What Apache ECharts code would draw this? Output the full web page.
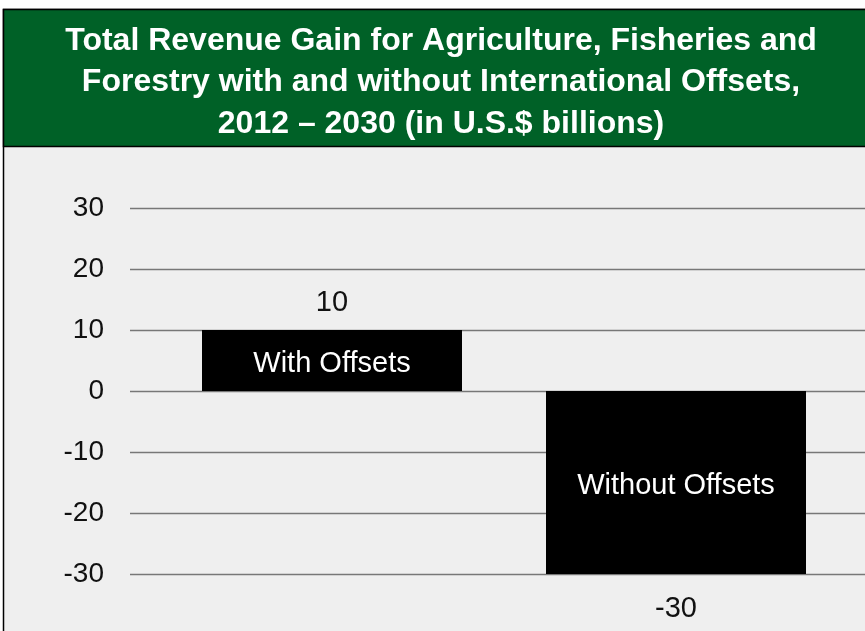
<!DOCTYPE html>
<html><head><meta charset="utf-8">
<style>html,body{margin:0;padding:0;background:#fff}#c{width:865px;height:631px}</style>
<script src="https://cdn.jsdelivr.net/npm/echarts@6/dist/echarts.min.js"></script>
</head><body><div id="c"></div>
<script>
const titleText = 'Total Revenue Gain for Agriculture, Fisheries and\nForestry with and without International Offsets,\n2012 \u2013 2030 (in U.S.$ billions)';
const categories = ['With Offsets', 'Without Offsets'];
const values = [10, -30];
const yMin = -30, yMax = 30, yStep = 10;

const chart = echarts.init(document.getElementById('c'));
const font = '"Liberation Sans", Arial, sans-serif';
chart.setOption({
  backgroundColor: '#ffffff',
  animation: false,
  graphic: [
    { type: 'rect', z: -10, shape: { x: 3.5, y: 9.5, width: 900, height: 700 }, style: { fill: '#efefef', stroke: '#000', lineWidth: 1.5 } },
    { type: 'rect', z: -9, shape: { x: 3.5, y: 9.5, width: 900, height: 137 }, style: { fill: '#006127', stroke: '#000', lineWidth: 1.5 } }
  ],
  title: {
    text: titleText,
    left: 441,
    textAlign: 'center',
    top: 20,
    padding: 0,
    textStyle: { color: '#fff', fontFamily: font, fontWeight: 'bold', fontSize: 32, lineHeight: 41.5 }
  },
  grid: [
    { left: 130, right: 0, top: 208, bottom: 57 },
    { left: 160, right: 17, top: 208, bottom: 57 }
  ],
  xAxis: [
    { type: 'category', gridIndex: 0, data: categories, show: false },
    { type: 'category', gridIndex: 1, data: categories, show: false }
  ],
  yAxis: [
    { type: 'value', gridIndex: 0, min: yMin, max: yMax, interval: yStep,
      axisLine: { show: false }, axisTick: { show: false },
      axisLabel: { color: '#111', fontFamily: font, fontSize: 28, margin: 26 },
      splitLine: { lineStyle: { color: '#777', width: 1.3 } } },
    { type: 'value', gridIndex: 1, min: yMin, max: yMax, interval: yStep, show: false, splitLine: { show: false } }
  ],
  series: [
    { type: 'bar', xAxisIndex: 1, yAxisIndex: 1, barWidth: 260,
      itemStyle: { color: '#000' },
      label: { show: true, position: 'inside', offset: [0, 3], color: '#fff', fontFamily: font, fontSize: 29, formatter: p => p.name },
      data: values },
    { type: 'bar', xAxisIndex: 1, yAxisIndex: 1, barWidth: 260, barGap: '-100%',
      itemStyle: { color: 'rgba(0,0,0,0)' }, silent: true,
      data: values.map(v => ({ value: v, label: { show: true, position: v >= 0 ? 'top' : 'bottom', distance: v >= 0 ? 13 : 20, color: '#111', fontFamily: font, fontSize: 29 } })) }
  ]
});
</script></body></html>
